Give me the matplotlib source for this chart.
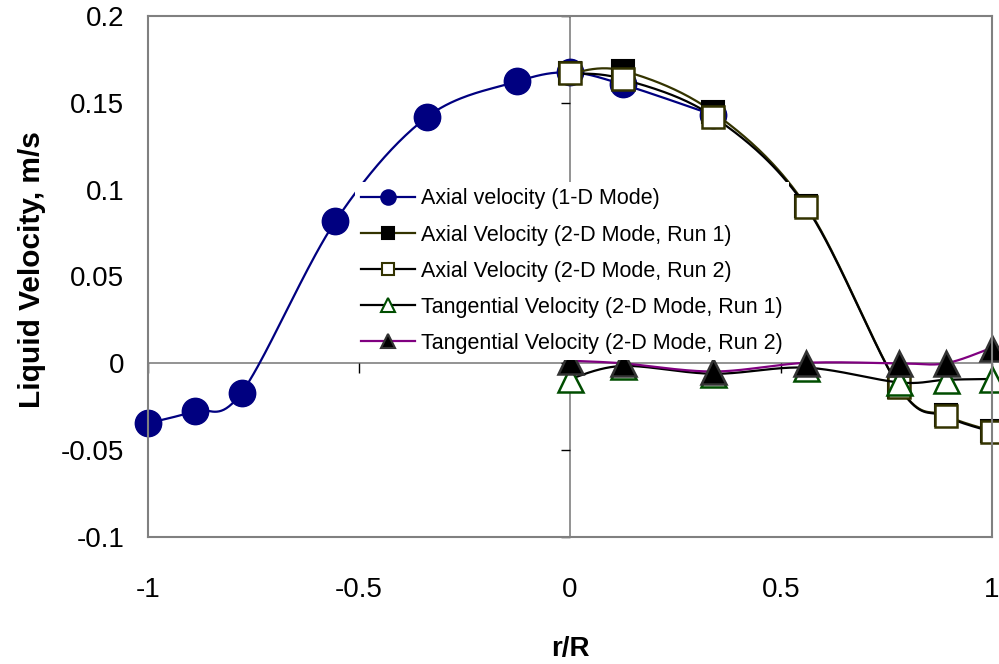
import numpy as np
import matplotlib
matplotlib.use('Agg')
import matplotlib.pyplot as plt
from matplotlib.lines import Line2D

plt.rcParams['font.family'] = ['Liberation Sans', 'DejaVu Sans']
plt.rcParams['axes.unicode_minus'] = False

# data
x_1d = [-1.0, -0.889, -0.778, -0.556, -0.34, -0.125, 0.0, 0.125, 0.34]
axial_1d = [-0.0345, -0.0275, -0.0168, 0.0818, 0.1416, 0.1623, 0.1675, 0.1606, 0.143]

x_2d = [0.0, 0.125, 0.34, 0.56, 0.78, 0.89, 1.0]
axial_run1 = [0.167, 0.1685, 0.1445, 0.0905, -0.0135, -0.030, -0.039]
axial_run2 = [0.167, 0.1637, 0.142, 0.0898, -0.0138, -0.0305, -0.0395]
tang_run1 = [-0.009, -0.0015, -0.006, -0.0025, -0.011, -0.0095, -0.009]
tang_run2 = [0.0015, 0.0, -0.0047, 0.0003, 0.0, 0.0, 0.009]

labels = ['Axial velocity (1-D Mode)',
          'Axial Velocity (2-D Mode, Run 1)',
          'Axial Velocity (2-D Mode, Run 2)',
          'Tangential Velocity (2-D Mode, Run 1)',
          'Tangential Velocity (2-D Mode, Run 2)']

xticks = [-1, -0.5, 0, 0.5, 1]
yticks = [-0.1, -0.05, 0, 0.05, 0.1, 0.15, 0.2]


def smooth(x, y, n=40):
    # Excel-like smoothed line (Catmull-Rom as cubic Bezier)
    pts = np.column_stack([x, y]).astype(float)
    p = np.vstack([pts[0], pts, pts[-1]])
    t = np.linspace(0, 1, n)[:, None]
    out = []
    for i in range(1, len(p) - 2):
        p0, p1, p2, p3 = p[i - 1], p[i], p[i + 1], p[i + 2]
        c1 = p1 + (p2 - p0) / 6
        c2 = p2 - (p3 - p1) / 6
        seg = (1 - t) ** 3 * p1 + 3 * (1 - t) ** 2 * t * c1 + 3 * (1 - t) * t ** 2 * c2 + t ** 3 * p2
        out.append(seg)
    s = np.vstack(out)
    return s[:, 0], s[:, 1]


fig = plt.figure(figsize=(9.99, 6.64), dpi=100)
ax = fig.add_axes([148 / 999, 1 - 537 / 664, (992 - 148) / 999, (537 - 16) / 664])

series = [
    (x_1d, axial_1d, dict(color='#000080'), dict(marker='o', ms=19, mfc='#000080', mec='#000080', mew=1)),
    (x_2d, axial_run1, dict(color='#333300'), dict(marker='s', ms=15.5, mfc='black', mec='black', mew=1.5)),
    (x_2d, axial_run2, dict(color='black'), dict(marker='s', ms=15.5, mfc='white', mec='#333300', mew=1.8)),
    (x_2d, tang_run1, dict(color='black'), dict(marker='^', ms=18, mfc='white', mec='#004d00', mew=1.8)),
    (x_2d, tang_run2, dict(color='#800080'), dict(marker='^', ms=18, mfc='black', mec='#333333', mew=1.8)),
]

# axes through zero
ax.axhline(0, color='#808080', lw=1.2, zorder=1)
ax.axvline(0, color='#808080', lw=1.2, zorder=1)
ax.plot(xticks, [0] * len(xticks), ls='none', marker=3, ms=7, mew=1, color='black', clip_on=False, zorder=1)
ax.plot([0] * len(yticks), yticks, ls='none', marker=0, ms=6.5, mew=1, color='black', clip_on=False, zorder=1)

handles = []
for i, (xs, ys, lst, mst) in enumerate(series):
    sx, sy = smooth(xs, ys)
    ax.plot(sx, sy, lw=1.6, zorder=2 + i * 0.1, clip_on=False, **lst)
    ax.plot(xs, ys, ls='none', zorder=2.05 + i * 0.1, clip_on=False, **mst)
    hm = dict(mst)
    hm['ms'] = mst['ms'] * 0.55
    hm['mew'] = 1.5
    handles.append(Line2D([0], [0], lw=1.6, **lst, **hm))

ax.set_xlim(-1, 1)
ax.set_ylim(-0.1, 0.2)
ax.set_xticks(xticks)
ax.set_xticklabels(['-1', '-0.5', '0', '0.5', '1'])
ax.set_yticks(yticks)
ax.set_yticklabels(['-0.1', '-0.05', '0', '0.05', '0.1', '0.15', '0.2'])
ax.tick_params(axis='both', length=0, labelsize=20)
ax.tick_params(axis='y', pad=17)
ax.tick_params(axis='x', pad=29)
for sp in ax.spines.values():
    sp.set_color('#808080')
    sp.set_linewidth(1.5)

ax.set_xlabel('r/R', fontsize=20, fontweight='bold')
ax.xaxis.set_label_coords(0.5, -(636 - 537) / 521)
ax.set_ylabel('Liquid Velocity, m/s', fontsize=21.5, fontweight='bold')
ax.yaxis.set_label_coords(-(148 - 46) / 844, (537 - 270) / 521)

leg = ax.legend(handles, labels, loc='upper left', bbox_to_anchor=(355 / 999, 1 - 182 / 664),
                bbox_transform=fig.transFigure, borderaxespad=0, borderpad=0.3,
                fontsize=15.5, handlelength=2.5, handletextpad=0.25, labelspacing=0.70,
                frameon=True, fancybox=False, framealpha=1, facecolor='white', edgecolor='none')
leg.set_zorder(5)

fig.savefig('out.png', dpi=100)
